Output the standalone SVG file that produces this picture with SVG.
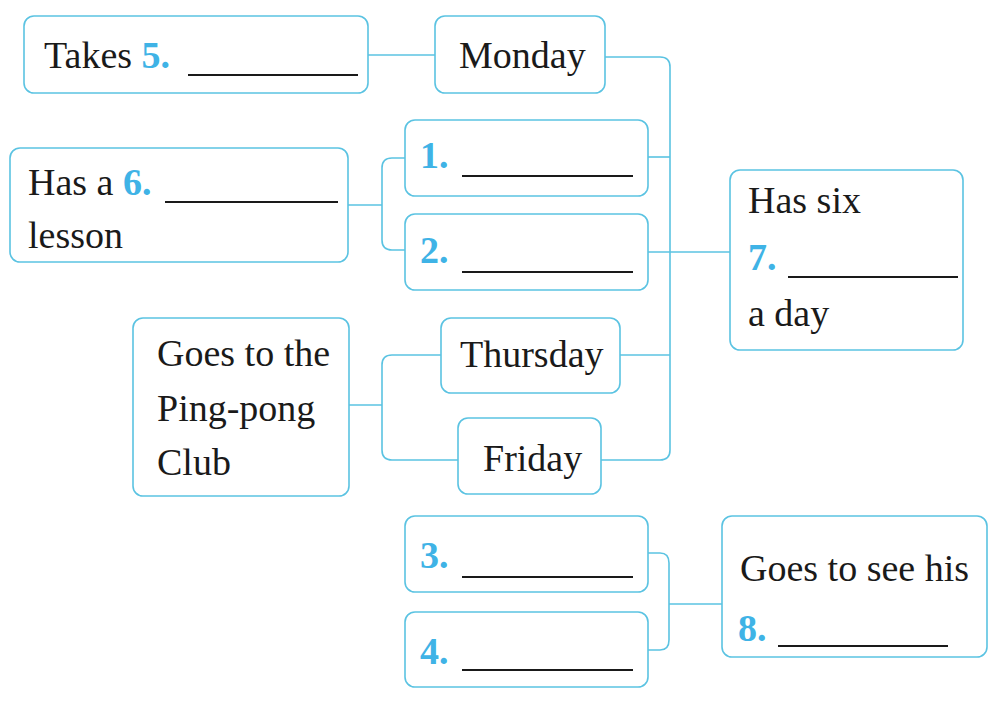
<svg xmlns="http://www.w3.org/2000/svg" width="991" height="701" viewBox="0 0 991 701">
<style>
.box{fill:#fff;stroke:#5bc3e2;stroke-width:1.6}
.con{fill:none;stroke:#5bc3e2;stroke-width:1.6}
text{font-family:'Liberation Serif','Times New Roman',Times,'Nimbus Roman','Noto Serif','DejaVu Serif',FreeSerif,serif;font-size:38px;fill:#1a1a1a}
.n{fill:#3fb3e6;font-weight:bold}
.u{stroke:#1a1a1a;stroke-width:2}
</style>
<rect width="991" height="701" fill="#fff"/>
<g id="connectors">
<path class="con" d="M368 55H435"/>
<path class="con" d="M605 57H660Q670 57 670 67V450Q670 460 660 460H601"/>
<path class="con" d="M648 157H670"/>
<path class="con" d="M620 355H670"/>
<path class="con" d="M648 252H730"/>
<path class="con" d="M348 205H382M405 158H392Q382 158 382 168V240Q382 250 392 250H405"/>
<path class="con" d="M349 405H382M441 355H392Q382 355 382 365V450Q382 460 392 460H458"/>
<path class="con" d="M648 553H660Q669 553 669 563V640Q669 650 660 650H648M669 604H722"/>
</g>
<g id="takes">
<rect class="box" x="24" y="16" width="344" height="77" rx="10"/>
<text x="44" y="68">Takes <tspan class="n">5.</tspan></text>
<line class="u" x1="188" y1="75" x2="358" y2="75"/>
</g>
<g id="monday">
<rect class="box" x="435" y="16" width="170" height="77" rx="10"/>
<text x="459" y="68">Monday</text>
</g>
<g id="hasa">
<rect class="box" x="10" y="148" width="338" height="114" rx="10"/>
<text x="28" y="195">Has a <tspan class="n">6.</tspan></text>
<line class="u" x1="165" y1="202" x2="338" y2="202"/>
<text x="28" y="248">lesson</text>
</g>
<g id="blank1">
<rect class="box" x="405" y="120" width="243" height="76" rx="10"/>
<text class="n" x="420" y="168">1.</text>
<line class="u" x1="462" y1="176" x2="633" y2="176"/>
</g>
<g id="blank2">
<rect class="box" x="405" y="214" width="243" height="76" rx="10"/>
<text class="n" x="420" y="263">2.</text>
<line class="u" x1="462" y1="272" x2="633" y2="272"/>
</g>
<g id="hassix">
<rect class="box" x="730" y="170" width="233" height="180" rx="10"/>
<text x="748" y="213">Has six</text>
<text class="n" x="748" y="270">7.</text>
<line class="u" x1="788" y1="277" x2="958" y2="277"/>
<text x="748" y="326">a day</text>
</g>
<g id="goesto">
<rect class="box" x="133" y="318" width="216" height="178" rx="10"/>
<text x="157" y="366">Goes to the</text>
<text x="157" y="421">Ping-pong</text>
<text x="157" y="475">Club</text>
</g>
<g id="thursday">
<rect class="box" x="441" y="318" width="179" height="75" rx="10"/>
<text x="460" y="367">Thursday</text>
</g>
<g id="friday">
<rect class="box" x="458" y="418" width="143" height="76" rx="10"/>
<text x="483" y="471">Friday</text>
</g>
<g id="blank3">
<rect class="box" x="405" y="516" width="243" height="76" rx="10"/>
<text class="n" x="420" y="568">3.</text>
<line class="u" x1="462" y1="577" x2="633" y2="577"/>
</g>
<g id="blank4">
<rect class="box" x="405" y="612" width="243" height="75" rx="10"/>
<text class="n" x="420" y="664">4.</text>
<line class="u" x1="462" y1="670" x2="633" y2="670"/>
</g>
<g id="goessee">
<rect class="box" x="722" y="516" width="265" height="141" rx="10"/>
<text x="740" y="581">Goes to see his</text>
<text class="n" x="738" y="641">8.</text>
<line class="u" x1="778" y1="646" x2="948" y2="646"/>
</g>
</svg>
